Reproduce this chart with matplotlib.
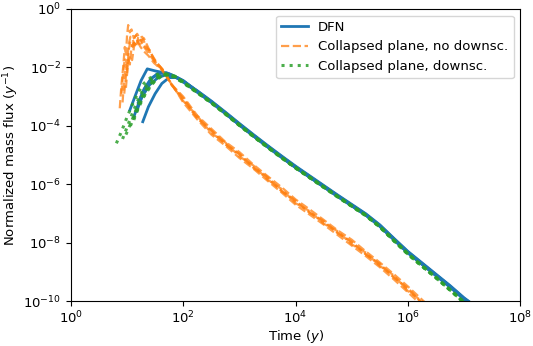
import numpy as np
import matplotlib
matplotlib.use('Agg')
import matplotlib.pyplot as plt
from matplotlib.ticker import NullLocator

# all values are log10(time in y), log10(normalized flux in 1/y)
# --- DFN realizations
dfn_t = [
  [1.05, 1.15, 1.25, 1.36, 1.5, 1.7, 1.85, 2.0, 2.25, 2.5, 2.75, 3.0, 3.25, 3.5, 3.75, 4.0, 4.25, 4.5, 4.75, 5.0, 5.25, 5.5, 5.75, 6.0, 6.25, 6.5, 6.75, 7.0, 7.25],
  [1.12, 1.22, 1.32, 1.45, 1.6, 1.75, 1.9, 2.0, 2.25, 2.5, 2.75, 3.0, 3.25, 3.5, 3.75, 4.0, 4.25, 4.5, 4.75, 5.0, 5.25, 5.5, 5.75, 6.0, 6.25, 6.5, 6.75, 7.0, 7.25],
  [1.17, 1.27, 1.4, 1.55, 1.7, 1.85, 2.0, 2.25, 2.5, 2.75, 3.0, 3.25, 3.5, 3.75, 4.0, 4.25, 4.5, 4.75, 5.0, 5.25, 5.5, 5.75, 6.0, 6.25, 6.5, 6.75, 7.0, 7.25],
  [1.28, 1.38, 1.5, 1.62, 1.75, 1.9, 2.0, 2.25, 2.5, 2.75, 3.0, 3.25, 3.5, 3.75, 4.0, 4.25, 4.5, 4.75, 5.0, 5.25, 5.5, 5.75, 6.0, 6.25, 6.5, 6.75, 7.0, 7.25],
  [1.2, 1.3, 1.42, 1.55, 1.7, 1.85, 2.0, 2.25, 2.5, 2.75, 3.0, 3.25, 3.5, 3.75, 4.0, 4.25, 4.5, 4.75, 5.0, 5.25, 5.5, 5.75, 6.0, 6.25, 6.5, 6.75, 7.0, 7.25],
]
dfn_q = [
  [-3.46, -2.95, -2.45, -2.05, -2.12, -2.2, -2.33, -2.48, -2.8, -3.15, -3.53, -3.92, -4.3, -4.67, -5.03, -5.38, -5.71, -6.04, -6.37, -6.69, -7.01, -7.39, -7.85, -8.3, -8.69, -9.08, -9.47, -9.89, -10.25],
  [-3.7, -3.15, -2.7, -2.35, -2.2, -2.22, -2.36, -2.47, -2.84, -3.19, -3.58, -3.97, -4.35, -4.72, -5.08, -5.43, -5.76, -6.09, -6.42, -6.74, -7.06, -7.44, -7.9, -8.35, -8.74, -9.13, -9.52, -9.94, -10.28],
  [-3.5, -3.0, -2.6, -2.35, -2.25, -2.32, -2.46, -2.81, -3.17, -3.55, -3.94, -4.32, -4.69, -5.05, -5.4, -5.73, -6.06, -6.39, -6.71, -7.03, -7.41, -7.87, -8.32, -8.71, -9.1, -9.49, -9.91, -10.25],
  [-3.86, -3.35, -2.9, -2.55, -2.35, -2.35, -2.45, -2.82, -3.18, -3.56, -3.95, -4.33, -4.7, -5.06, -5.41, -5.74, -6.07, -6.4, -6.72, -7.04, -7.42, -7.88, -8.33, -8.72, -9.11, -9.5, -9.92, -10.26],
  [-3.2, -2.75, -2.4, -2.2, -2.18, -2.3, -2.5, -2.85, -3.2, -3.58, -3.97, -4.35, -4.72, -5.08, -5.43, -5.76, -6.09, -6.42, -6.74, -7.06, -7.44, -7.9, -8.35, -8.74, -9.13, -9.52, -9.94, -10.27],
]

# --- collapsed plane, no downscaling
cp_t = [
  [0.87, 0.9, 0.93, 0.96, 0.98, 1.0, 1.02, 1.05, 1.08, 1.12, 1.16, 1.2, 1.25, 1.3, 1.38, 1.45, 1.55, 1.62, 1.7, 1.8, 2.0, 2.25, 2.5, 2.75, 3.0, 3.25, 3.5, 3.75, 4.0, 4.25, 4.5, 4.75, 5.0, 5.25, 5.5, 5.75, 6.0, 6.25, 6.5],
  [0.92, 0.95, 0.98, 1.0, 1.03, 1.06, 1.1, 1.14, 1.18, 1.22, 1.27, 1.32, 1.4, 1.5, 1.6, 1.7, 1.8, 2.0, 2.25, 2.5, 2.75, 3.0, 3.25, 3.5, 3.75, 4.0, 4.25, 4.5, 4.75, 5.0, 5.25, 5.5, 5.75, 6.0, 6.25, 6.5],
  [0.95, 0.98, 1.02, 1.05, 1.08, 1.12, 1.16, 1.2, 1.25, 1.3, 1.36, 1.42, 1.5, 1.58, 1.66, 1.8, 2.0, 2.25, 2.5, 2.75, 3.0, 3.25, 3.5, 3.75, 4.0, 4.25, 4.5, 4.75, 5.0, 5.25, 5.5, 5.75, 6.0, 6.25, 6.5],
  [0.9, 0.93, 0.96, 1.0, 1.03, 1.06, 1.1, 1.14, 1.18, 1.24, 1.3, 1.38, 1.48, 1.6, 1.7, 1.8, 2.0, 2.25, 2.5, 2.75, 3.0, 3.25, 3.5, 3.75, 4.0, 4.25, 4.5, 4.75, 5.0, 5.25, 5.5, 5.75, 6.0, 6.25, 6.5],
  [0.98, 1.01, 1.05, 1.09, 1.13, 1.17, 1.22, 1.28, 1.34, 1.4, 1.47, 1.55, 1.65, 1.8, 2.0, 2.25, 2.5, 2.75, 3.0, 3.25, 3.5, 3.75, 4.0, 4.25, 4.5, 4.75, 5.0, 5.25, 5.5, 5.75, 6.0, 6.25, 6.5],
]
cp_q = [
  [-3.4, -2.6, -2.0, -1.3, -1.6, -0.9, -0.55, -0.8, -0.7, -1.0, -0.9, -1.1, -1.05, -1.3, -1.5, -1.7, -1.95, -2.05, -2.3, -2.6, -3.0, -3.65, -4.1, -4.55, -4.9, -5.33, -5.72, -6.1, -6.52, -6.86, -7.22, -7.58, -7.9, -8.3, -8.68, -9.08, -9.5, -9.95, -10.4],
  [-3.2, -2.4, -1.9, -2.2, -1.4, -1.1, -1.3, -0.95, -0.85, -1.0, -0.95, -1.2, -1.45, -1.8, -2.0, -2.3, -2.58, -3.2, -3.78, -4.3, -4.68, -5.1, -5.47, -5.88, -6.28, -6.7, -7.04, -7.38, -7.74, -8.1, -8.46, -8.84, -9.26, -9.7, -10.15, -10.6],
  [-2.9, -2.3, -1.7, -1.9, -1.3, -1.15, -1.3, -0.95, -1.1, -1.0, -1.25, -1.5, -1.75, -1.95, -2.15, -2.62, -3.05, -3.72, -4.15, -4.62, -4.96, -5.42, -5.75, -6.22, -6.56, -6.98, -7.26, -7.68, -7.96, -8.4, -8.72, -9.2, -9.55, -10.08, -10.5],
  [-2.9, -2.2, -1.7, -1.85, -1.2, -0.95, -1.05, -1.25, -1.1, -1.3, -1.45, -1.6, -1.85, -2.05, -2.3, -2.6, -3.15, -3.66, -4.25, -4.57, -5.05, -5.36, -5.84, -6.16, -6.65, -6.92, -7.35, -7.61, -8.06, -8.34, -8.8, -9.12, -9.66, -10.0, -10.55],
  [-2.7, -2.0, -1.6, -1.75, -1.2, -1.05, -1.2, -1.15, -1.35, -1.4, -1.7, -1.9, -2.1, -2.62, -3.1, -3.75, -4.18, -4.64, -4.98, -5.44, -5.8, -6.24, -6.6, -6.96, -7.3, -7.66, -8.0, -8.4, -8.76, -9.18, -9.6, -10.05, -10.5],
]

# --- collapsed plane, downscaling
cpd_t = [
  [0.81, 0.9, 1.0, 1.1, 1.2, 1.3, 1.45, 1.6, 1.8, 2.0, 2.25, 2.5, 2.75, 3.0, 3.25, 3.5, 3.75, 4.0, 4.25, 4.5, 4.75, 5.0, 5.25, 5.5, 5.75, 6.0, 6.25, 6.5, 6.75, 7.0, 7.25],
  [0.92, 1.0, 1.1, 1.2, 1.3, 1.42, 1.55, 1.7, 1.85, 2.0, 2.25, 2.5, 2.75, 3.0, 3.25, 3.5, 3.75, 4.0, 4.25, 4.5, 4.75, 5.0, 5.25, 5.5, 5.75, 6.0, 6.25, 6.5, 6.75, 7.0, 7.25],
  [0.98, 1.07, 1.17, 1.27, 1.37, 1.5, 1.63, 1.8, 2.0, 2.25, 2.5, 2.75, 3.0, 3.25, 3.5, 3.75, 4.0, 4.25, 4.5, 4.75, 5.0, 5.25, 5.5, 5.75, 6.0, 6.25, 6.5, 6.75, 7.0, 7.25],
  [1.06, 1.14, 1.24, 1.34, 1.45, 1.57, 1.7, 1.85, 2.0, 2.25, 2.5, 2.75, 3.0, 3.25, 3.5, 3.75, 4.0, 4.25, 4.5, 4.75, 5.0, 5.25, 5.5, 5.75, 6.0, 6.25, 6.5, 6.75, 7.0, 7.25],
  [1.12, 1.2, 1.3, 1.4, 1.5, 1.62, 1.75, 1.88, 2.0, 2.25, 2.5, 2.75, 3.0, 3.25, 3.5, 3.75, 4.0, 4.25, 4.5, 4.75, 5.0, 5.25, 5.5, 5.75, 6.0, 6.25, 6.5, 6.75, 7.0, 7.25],
]
cpd_q = [
  [-4.6, -4.2, -3.7, -3.25, -2.85, -2.55, -2.3, -2.2, -2.3, -2.52, -2.86, -3.21, -3.59, -3.98, -4.36, -4.73, -5.09, -5.44, -5.77, -6.1, -6.43, -6.75, -7.07, -7.46, -7.93, -8.39, -8.8, -9.2, -9.62, -10.05, -10.4],
  [-4.45, -4.05, -3.55, -3.1, -2.72, -2.45, -2.27, -2.22, -2.32, -2.53, -2.87, -3.22, -3.6, -3.99, -4.37, -4.74, -5.1, -5.45, -5.78, -6.11, -6.44, -6.76, -7.08, -7.47, -7.94, -8.4, -8.81, -9.21, -9.63, -10.06, -10.4],
  [-4.3, -3.9, -3.4, -2.98, -2.66, -2.4, -2.25, -2.27, -2.5, -2.85, -3.2, -3.58, -3.97, -4.35, -4.72, -5.08, -5.43, -5.76, -6.09, -6.42, -6.74, -7.06, -7.45, -7.92, -8.38, -8.79, -9.19, -9.61, -10.04, -10.4],
  [-4.0, -3.65, -3.2, -2.85, -2.55, -2.33, -2.24, -2.3, -2.51, -2.86, -3.21, -3.59, -3.98, -4.36, -4.73, -5.09, -5.44, -5.77, -6.1, -6.43, -6.75, -7.07, -7.46, -7.93, -8.39, -8.8, -9.2, -9.62, -10.05, -10.4],
  [-3.8, -3.4, -3.0, -2.7, -2.45, -2.3, -2.25, -2.33, -2.5, -2.85, -3.2, -3.58, -3.97, -4.35, -4.72, -5.08, -5.43, -5.76, -6.09, -6.42, -6.74, -7.06, -7.45, -7.92, -8.38, -8.79, -9.19, -9.61, -10.04, -10.4],
]

fig = plt.figure(figsize=(5.33, 3.46), dpi=100)
ax = fig.add_axes([0.133, 0.13, 0.843, 0.844])

for i in range(len(dfn_t)):
  ax.plot(10**np.array(dfn_t[i]), 10**np.array(dfn_q[i]), '-', c='#1f77b4', lw=2,
          label='DFN' if i == 0 else None)
for i in range(len(cp_t)):
  ax.plot(10**np.array(cp_t[i]), 10**np.array(cp_q[i]), '--', c='#ff7f0e', lw=1.6, alpha=0.75,
          label='Collapsed plane, no downsc.' if i == 0 else None)
for i in range(len(cpd_t)):
  ax.plot(10**np.array(cpd_t[i]), 10**np.array(cpd_q[i]), ':', c='#2ca02c', lw=2.2, alpha=0.85,
          label='Collapsed plane, downsc.' if i == 0 else None)

ax.set_xscale('log')
ax.set_yscale('log')
ax.set_xlim(1e0, 1e8)
ax.set_ylim(1e-10, 1e0)
ax.set_xticks([1e0, 1e2, 1e4, 1e6, 1e8])
ax.set_yticks([1e-10, 1e-8, 1e-6, 1e-4, 1e-2, 1e0])
ax.xaxis.set_minor_locator(NullLocator())
ax.yaxis.set_minor_locator(NullLocator())
ax.tick_params(labelsize=9.5)
ax.tick_params(axis='x', pad=2.5)
ax.set_xlabel('Time ($y$)', fontsize=9.5)
ax.set_ylabel('Normalized mass flux ($y^{-1}$)', fontsize=9.5)
ax.xaxis.set_label_coords(0.5, -0.093)
ax.yaxis.set_label_coords(-0.11, 0.5)
ax.legend(loc='upper right', fontsize=9.5)

fig.savefig('out.png', dpi=100)
